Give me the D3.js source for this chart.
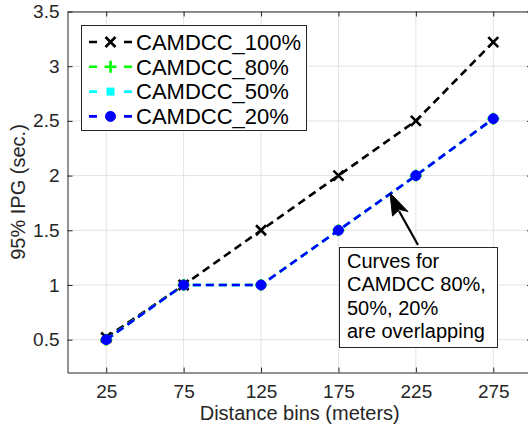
<!DOCTYPE html>
<html>
<head>
<meta charset="utf-8">
<script src="https://cdn.jsdelivr.net/npm/d3@7"></script>
<style>
  body { margin: 0; background: #fff; }
  svg { display: block; font-family: "Liberation Sans", Arial, sans-serif; }
</style>
</head>
<body>
<div class="holder"></div>
<script>
"use strict";

const bins = [25, 75, 125, 175, 225, 275];
const seriesNames = ["CAMDCC_100%", "CAMDCC_80%", "CAMDCC_50%", "CAMDCC_20%"];
const ipg100 = [0.52, 1.0, 1.5, 2.0, 2.5, 3.22];
const ipg80 = [0.5, 1.0, 1.0, 1.5, 2.0, 2.52];
const ipg50 = [0.5, 1.0, 1.0, 1.5, 2.0, 2.52];
const ipg20 = [0.5, 1.0, 1.0, 1.5, 2.0, 2.52];
const yTicks = [0.5, 1, 1.5, 2, 2.5, 3, 3.5];
const noteLines = ["Curves for", "CAMDCC 80%,", "50%, 20%", "are overlapping"];

const w = 528;
const h = 432;
const margin = { top: 11.5, right: -4, bottom: 59.5, left: 67.5 };
const axisColor = "#262626";

const svg = d3
  .select(".holder")
  .append("svg")
  .attr("width", w)
  .attr("height", h);

const x = d3
  .scaleLinear()
  .domain([0, 300])
  .range([margin.left, w - margin.right]);
const y = d3
  .scaleLinear()
  .domain([0.2, 3.5])
  .range([h - margin.bottom, margin.top]);

// grid
svg
  .append("g")
  .selectAll("line")
  .data(bins)
  .enter()
  .append("line")
  .attr("x1", (d) => x(d))
  .attr("x2", (d) => x(d))
  .attr("y1", y(0.2))
  .attr("y2", y(3.5))
  .attr("stroke", "#e3e3e3")
  .attr("stroke-width", 1);
svg
  .append("g")
  .selectAll("line")
  .data(yTicks)
  .enter()
  .append("line")
  .attr("x1", x(0))
  .attr("x2", x(300))
  .attr("y1", (d) => y(d))
  .attr("y2", (d) => y(d))
  .attr("stroke", "#e3e3e3")
  .attr("stroke-width", 1);

// axes (ticks inside, like matlab)
const xAxis = d3.axisBottom(x).tickValues(bins).tickSizeInner(-5).tickSizeOuter(0).tickPadding(12);
const yAxis = d3.axisLeft(y).tickValues(yTicks).tickFormat(d3.format("")).tickSizeInner(-5).tickSizeOuter(0).tickPadding(8);
const xTop = d3.axisTop(x).tickValues(bins).tickSizeInner(-5).tickSizeOuter(0).tickFormat("");
const yRight = d3.axisRight(y).tickValues(yTicks).tickSizeInner(-5).tickSizeOuter(0).tickFormat("");

const axes = [
  [xAxis, "translate(0," + y(0.2) + ")"],
  [yAxis, "translate(" + x(0) + ",0)"],
  [xTop, "translate(0," + y(3.5) + ")"],
  [yRight, "translate(" + x(300) + ",0)"],
];
axes.forEach((a) => {
  const g = svg.append("g").attr("transform", a[1]).call(a[0]);
  g.select(".domain").attr("stroke", axisColor);
  g.selectAll(".tick line").attr("stroke", axisColor);
  g.selectAll("text")
    .attr("fill", axisColor)
    .style("font-size", "19px")
    .style("font-family", "'Liberation Sans', Arial, sans-serif");
});

// axis labels
svg
  .append("text")
  .attr("x", (x(0) + x(300)) / 2)
  .attr("y", 420)
  .attr("text-anchor", "middle")
  .attr("fill", axisColor)
  .style("font-size", "20px")
  .text("Distance bins (meters)");
svg
  .append("text")
  .attr("transform", "translate(25," + (y(0.2) + y(3.5)) / 2 + ") rotate(-90)")
  .attr("text-anchor", "middle")
  .attr("fill", axisColor)
  .style("font-size", "20px")
  .text("95% IPG (sec.)");

// series
const series = [
  { name: seriesNames[0], values: ipg100, color: "#000000", marker: "x" },
  { name: seriesNames[1], values: ipg80, color: "#00ff00", marker: "+" },
  { name: seriesNames[2], values: ipg50, color: "#00ffff", marker: "s" },
  { name: seriesNames[3], values: ipg20, color: "#0000ff", marker: "o" },
];

const drawMarker = (g, type, color, cx, cy) => {
  if (type === "x") {
    g.append("path")
      .attr("d", "M" + (cx - 5) + "," + (cy - 5) + "L" + (cx + 5) + "," + (cy + 5) +
        "M" + (cx - 5) + "," + (cy + 5) + "L" + (cx + 5) + "," + (cy - 5))
      .attr("stroke", color)
      .attr("stroke-width", 2.6)
      .attr("fill", "none");
  } else if (type === "+") {
    g.append("path")
      .attr("d", "M" + (cx - 6) + "," + cy + "L" + (cx + 6) + "," + cy +
        "M" + cx + "," + (cy - 6) + "L" + cx + "," + (cy + 6))
      .attr("stroke", color)
      .attr("stroke-width", 2.6)
      .attr("fill", "none");
  } else if (type === "s") {
    g.append("rect")
      .attr("x", cx - 4)
      .attr("y", cy - 4)
      .attr("width", 8)
      .attr("height", 8)
      .attr("fill", color);
  } else {
    g.append("circle")
      .attr("cx", cx)
      .attr("cy", cy)
      .attr("r", 5)
      .attr("fill", color)
      .attr("stroke", color)
      .attr("stroke-width", 1);
  }
};

const line = d3
  .line()
  .x((d) => x(d[0]))
  .y((d) => y(d[1]));

series.forEach((s) => {
  const pts = bins.map((b, i) => [b, s.values[i]]);
  const g = svg.append("g");
  g.append("path")
    .attr("d", line(pts))
    .attr("fill", "none")
    .attr("stroke", s.color)
    .attr("stroke-width", 2.6)
    .attr("stroke-dasharray", "8,5");
  pts.forEach((p) => drawMarker(g, s.marker, s.color, x(p[0]), y(p[1])));
});

// legend
const legend = svg.append("g");
legend
  .append("rect")
  .attr("x", 81.5)
  .attr("y", 25.5)
  .attr("width", 225)
  .attr("height", 105)
  .attr("fill", "#fff")
  .attr("stroke", axisColor)
  .attr("stroke-width", 1);
series.forEach((s, i) => {
  const ly = 42 + i * 24.8;
  legend
    .append("line")
    .attr("x1", 89)
    .attr("x2", 132)
    .attr("y1", ly)
    .attr("y2", ly)
    .attr("stroke", s.color)
    .attr("stroke-width", 2.6)
    .attr("stroke-dasharray", "8,27");
  drawMarker(legend, s.marker, s.color, 110.5, ly);
  legend
    .append("text")
    .attr("x", 136)
    .attr("y", ly + 7.8)
    .attr("fill", "#000")
    .style("font-size", "22px")
    .text(s.name);
});

// annotation
const note = svg.append("g");
note
  .append("rect")
  .attr("x", 339.5)
  .attr("y", 247.5)
  .attr("width", 158)
  .attr("height", 100)
  .attr("fill", "#fff")
  .attr("stroke", axisColor)
  .attr("stroke-width", 1);
note
  .selectAll("text")
  .data(noteLines)
  .enter()
  .append("text")
  .attr("x", 347)
  .attr("y", (d, i) => 268 + i * 23.3)
  .attr("fill", "#000")
  .style("font-size", "20px")
  .text((d) => d);

const tip = [390, 193];
const tail = [418, 245];
note
  .append("line")
  .attr("x1", tail[0])
  .attr("y1", tail[1])
  .attr("x2", 399)
  .attr("y2", 211)
  .attr("stroke", "#000")
  .attr("stroke-width", 2.2);
note
  .append("path")
  .attr("d", "M" + tip[0] + "," + tip[1] + "L392.5,216L399.5,209.5L408,211.5Z")
  .attr("fill", "#000")
  .attr("stroke", "#000")
  .attr("stroke-width", 1);
</script>
</body>
</html>
